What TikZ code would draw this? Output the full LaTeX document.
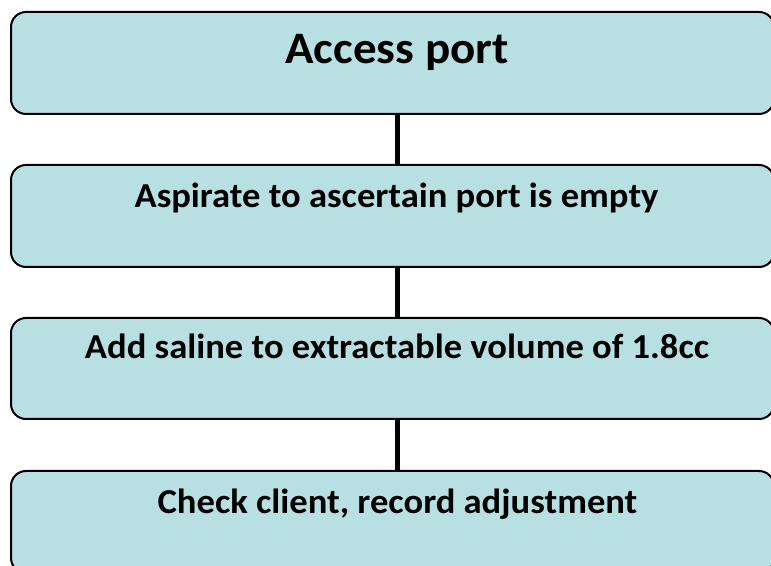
\documentclass[tikz,border=0pt]{standalone}
\usepackage{fontspec}
\setmainfont[FakeStretch=1.045]{Carlito}
\definecolor{boxfill}{RGB}{184,223,226}
\begin{document}
\begin{tikzpicture}[x=1pt,y=1pt,
  stepbox/.style={draw=black, line width=2pt, fill=boxfill, rounded corners=15pt,
    minimum width=763pt, minimum height=102pt, inner sep=0pt},
  link/.style={draw=black, line width=5pt},
  steptext/.style={anchor=base, inner sep=0pt, font=\bfseries\fontsize{35}{42}\selectfont},
  titletext/.style={anchor=base, inner sep=0pt, font=\bfseries\fontsize{45}{54}\selectfont}]
\useasboundingbox (0,0) rectangle (771,565);
\clip (0,0) rectangle (771,565);
% the four steps
\node[stepbox] (b1) at (392.5,502) {};
\node[stepbox] (b2) at (392.5,349) {};
\node[stepbox, minimum height=101pt] (b3) at (392.5,196.5) {};
\node[stepbox] (b4) at (392.5,43) {};
% vertical links between steps
\coordinate (lx) at (397,0);
\draw[link] (b1.south -| lx) -- (b2.north -| lx);
\draw[link] (b2.south -| lx) -- (b3.north -| lx);
\draw[link] (b3.south -| lx) -- (b4.north -| lx);
% step texts
\node[titletext] (t1) at (397,501.5) {Access port};
\node[steptext] (t2) at (396.5,357) {Aspirate to ascertain port is empty};
\node[steptext] (t3) at (397,206) {Add saline to extractable volume of 1.8cc};
\node[steptext] (t4) at (397.5,52) {Check client, record adjustment};
\end{tikzpicture}
\end{document}
